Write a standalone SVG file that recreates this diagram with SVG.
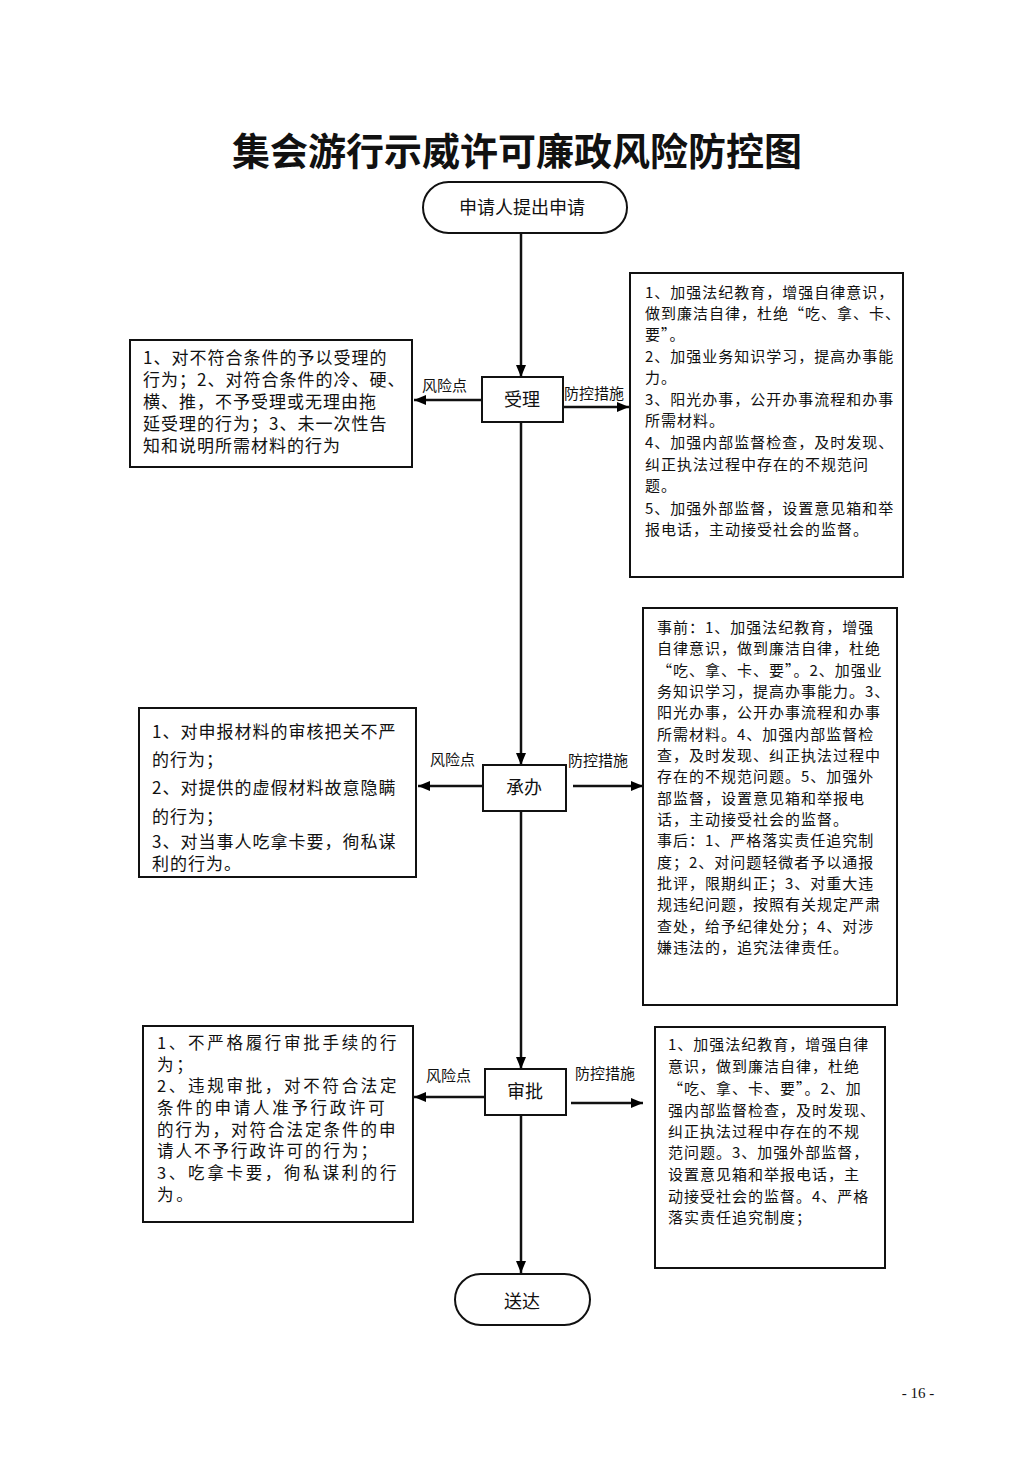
<svg xmlns="http://www.w3.org/2000/svg" width="1033" height="1463" viewBox="0 0 1033 1463">
<defs>
<marker id="ah" viewBox="0 0 12 10" refX="12" refY="5" markerWidth="12" markerHeight="10" markerUnits="userSpaceOnUse" orient="auto">
<path d="M0,0 L12,5 L0,10 Z" fill="#000"/>
</marker>
<style>
.t{font-family:"Noto Sans CJK SC","Noto Sans",sans-serif;fill:#111}
.box{fill:#fff;stroke:#111;stroke-width:2}
.ln{stroke:#111;stroke-width:2.5;fill:none}
.lab{font-size:15px}
.s15{font-size:15px;letter-spacing:1px}
.s17{font-size:17px;letter-spacing:1px}
.s16{font-size:16.5px;letter-spacing:2.7px}
.s18{font-size:18px}
</style>
</defs>
<rect width="1033" height="1463" fill="#fff"/>
<text class="t" x="517" y="165" text-anchor="middle" font-size="38" font-weight="bold">集会游行示威许可廉政风险防控图</text>

<g id="connectors">
<line class="ln" x1="521" y1="234" x2="521" y2="377" marker-end="url(#ah)"/>
<line class="ln" x1="521" y1="423" x2="521" y2="765" marker-end="url(#ah)"/>
<line class="ln" x1="521" y1="811" x2="521" y2="1069" marker-end="url(#ah)"/>
<line class="ln" x1="521" y1="1115" x2="521" y2="1273" marker-end="url(#ah)"/>
<line class="ln" x1="481" y1="400" x2="414" y2="400" marker-end="url(#ah)"/>
<line class="ln" x1="563" y1="407" x2="629" y2="407" marker-end="url(#ah)"/>
<line class="ln" x1="482" y1="786" x2="418" y2="786" marker-end="url(#ah)"/>
<line class="ln" x1="573" y1="786" x2="643" y2="786" marker-end="url(#ah)"/>
<line class="ln" x1="484" y1="1097" x2="414" y2="1097" marker-end="url(#ah)"/>
<line class="ln" x1="571" y1="1103" x2="643" y2="1103" marker-end="url(#ah)"/>
<text class="t lab" x="422" y="391">风险点</text>
<text class="t lab" x="564" y="399">防控措施</text>
<text class="t lab" x="430" y="765">风险点</text>
<text class="t lab" x="568" y="766">防控措施</text>
<text class="t lab" x="426" y="1081">风险点</text>
<text class="t lab" x="575" y="1079">防控措施</text>
</g>

<g id="start">
<rect class="box" x="423" y="182" width="204" height="51" rx="25.5"/>
<text class="t s18" x="522" y="214" text-anchor="middle">申请人提出申请</text>
</g>

<g id="shouli">
<rect class="box" x="482" y="377" width="81" height="45"/>
<text class="t s18" x="522" y="406" text-anchor="middle">受理</text>
</g>

<g id="chengban">
<rect class="box" x="483" y="765" width="83" height="46"/>
<text class="t s18" x="524" y="794" text-anchor="middle">承办</text>
</g>

<g id="shenpi">
<rect class="box" x="485" y="1069" width="81" height="46"/>
<text class="t s18" x="525" y="1098" text-anchor="middle">审批</text>
</g>

<g id="end">
<rect class="box" x="455" y="1274" width="135" height="51" rx="25.5"/>
<text class="t s18" x="522" y="1308" text-anchor="middle">送达</text>
</g>

<g id="risk1">
<rect class="box" x="130" y="340" width="282" height="127"/>
<text class="t s17">
<tspan x="143" y="364">1、对不符合条件的予以受理的</tspan>
<tspan x="143" y="386">行为；2、对符合条件的冷、硬、</tspan>
<tspan x="143" y="408">横、推，不予受理或无理由拖</tspan>
<tspan x="143" y="430">延受理的行为；3、未一次性告</tspan>
<tspan x="143" y="452">知和说明所需材料的行为</tspan>
</text>
</g>

<g id="measure1">
<rect class="box" x="630" y="273" width="273" height="304"/>
<text class="t s15">
<tspan x="645" y="298">1、加强法纪教育，增强自律意识，</tspan>
<tspan x="645" y="319">做到廉洁自律，杜绝“吃、拿、卡、</tspan>
<tspan x="645" y="340">要”。</tspan>
<tspan x="645" y="362">2、加强业务知识学习，提高办事能</tspan>
<tspan x="645" y="383">力。</tspan>
<tspan x="645" y="405">3、阳光办事，公开办事流程和办事</tspan>
<tspan x="645" y="426">所需材料。</tspan>
<tspan x="645" y="448">4、加强内部监督检查，及时发现、</tspan>
<tspan x="645" y="470">纠正执法过程中存在的不规范问</tspan>
<tspan x="645" y="491">题。</tspan>
<tspan x="645" y="514">5、加强外部监督，设置意见箱和举</tspan>
<tspan x="645" y="535">报电话，主动接受社会的监督。</tspan>
</text>
</g>

<g id="risk2">
<rect class="box" x="139" y="708" width="277" height="169"/>
<text class="t s17">
<tspan x="152" y="738">1、对申报材料的审核把关不严</tspan>
<tspan x="152" y="766">的行为；</tspan>
<tspan x="152" y="794">2、对提供的虚假材料故意隐瞒</tspan>
<tspan x="152" y="823">的行为；</tspan>
<tspan x="152" y="848">3、对当事人吃拿卡要，徇私谋</tspan>
<tspan x="152" y="870">利的行为。</tspan>
</text>
</g>

<g id="measure2">
<rect class="box" x="643" y="608" width="254" height="397"/>
<text class="t s15">
<tspan x="657" y="633">事前：1、加强法纪教育，增强</tspan>
<tspan x="657" y="654">自律意识，做到廉洁自律，杜绝</tspan>
<tspan x="657" y="676">“吃、拿、卡、要”。2、加强业</tspan>
<tspan x="657" y="697">务知识学习，提高办事能力。3、</tspan>
<tspan x="657" y="718">阳光办事，公开办事流程和办事</tspan>
<tspan x="657" y="740">所需材料。4、加强内部监督检</tspan>
<tspan x="657" y="761">查，及时发现、纠正执法过程中</tspan>
<tspan x="657" y="782">存在的不规范问题。5、加强外</tspan>
<tspan x="657" y="804">部监督，设置意见箱和举报电</tspan>
<tspan x="657" y="825">话，主动接受社会的监督。</tspan>
<tspan x="657" y="846">事后：1、严格落实责任追究制</tspan>
<tspan x="657" y="868">度；2、对问题轻微者予以通报</tspan>
<tspan x="657" y="889">批评，限期纠正；3、对重大违</tspan>
<tspan x="657" y="910">规违纪问题，按照有关规定严肃</tspan>
<tspan x="657" y="932">查处，给予纪律处分；4、对涉</tspan>
<tspan x="657" y="953">嫌违法的，追究法律责任。</tspan>
</text>
</g>

<g id="risk3">
<rect class="box" x="143" y="1026" width="270" height="196"/>
<text class="t s16">
<tspan x="157" y="1049">1、不严格履行审批手续的行</tspan>
<tspan x="157" y="1071">为；</tspan>
<tspan x="157" y="1092">2、违规审批，对不符合法定</tspan>
<tspan x="157" y="1114">条件的申请人准予行政许可</tspan>
<tspan x="157" y="1136" letter-spacing="2">的行为，对符合法定条件的申</tspan>
<tspan x="157" y="1157" letter-spacing="2">请人不予行政许可的行为；</tspan>
<tspan x="157" y="1179">3、吃拿卡要，徇私谋利的行</tspan>
<tspan x="157" y="1201">为。</tspan>
</text>
</g>

<g id="measure3">
<rect class="box" x="655" y="1027" width="230" height="241"/>
<text class="t s15">
<tspan x="668" y="1050">1、加强法纪教育，增强自律</tspan>
<tspan x="668" y="1072">意识，做到廉洁自律，杜绝</tspan>
<tspan x="668" y="1094">“吃、拿、卡、要”。2、加</tspan>
<tspan x="668" y="1116">强内部监督检查，及时发现、</tspan>
<tspan x="668" y="1137">纠正执法过程中存在的不规</tspan>
<tspan x="668" y="1158">范问题。3、加强外部监督，</tspan>
<tspan x="668" y="1180">设置意见箱和举报电话，主</tspan>
<tspan x="668" y="1202">动接受社会的监督。4、严格</tspan>
<tspan x="668" y="1223">落实责任追究制度；</tspan>
</text>
</g>

<text x="918" y="1398" text-anchor="middle" font-family="Liberation Serif, serif" font-size="15" fill="#111">- 16 -</text>
</svg>
